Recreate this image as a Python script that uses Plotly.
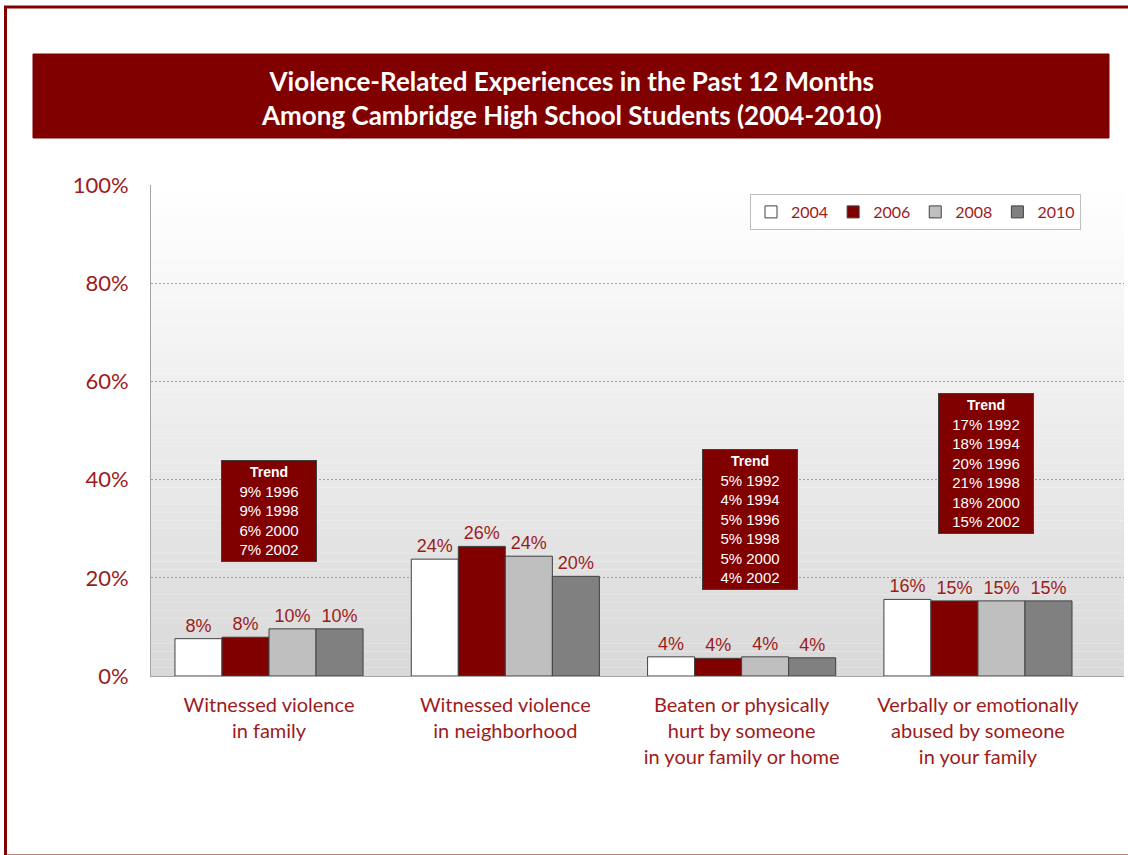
import plotly.graph_objects as go

categories = [
    "Witnessed violence<br>in family",
    "Witnessed violence<br>in neighborhood",
    "Beaten or physically<br>hurt by someone<br>in your family or home",
    "Verbally or emotionally<br>abused by someone<br>in your family",
]
years = ["2004", "2006", "2008", "2010"]
v2004 = [7.6, 23.8, 3.9, 15.6]
v2006 = [7.9, 26.4, 3.6, 15.3]
v2008 = [9.6, 24.4, 3.9, 15.3]
v2010 = [9.6, 20.3, 3.7, 15.3]
series = [v2004, v2006, v2008, v2010]
colors = ["#ffffff", "#800000", "#bfbfbf", "#808080"]

trend_cat = [0, 2, 3]
trend_y = [33.6, 31.8, 43.2]
trend_text = [
    ["9% 1996", "9% 1998", "6% 2000", "7% 2002"],
    ["5% 1992", "4% 1994", "5% 1996", "5% 1998", "5% 2000", "4% 2002"],
    ["17% 1992", "18% 1994", "20% 1996", "21% 1998", "18% 2000", "15% 2002"],
]
trend_shift = [0, 8, 8]

RED = "#9c1c1c"
W, H = 1128, 855
L, R, T, B = 151, 4, 185, 179
pw, ph = W - L - R, H - T - B

def px(x):
    return (x - L) / pw

def py(y):
    return (H - B - y) / ph

fig = go.Figure()
for yr, vals, c in zip(years, series, colors):
    fig.add_trace(go.Bar(
        x=categories, y=vals, name=yr,
        marker=dict(color=c, line=dict(color="#404040", width=1)),
        texttemplate="%{y:.0f}%", textposition="outside",
        textfont=dict(family="Liberation Sans, Arial", size=18, color=RED),
        cliponaxis=False, hoverinfo="skip",
    ))

shapes = []
n = 60
for i in range(n):
    t = i / (n - 1)
    g = int(round(255 - (255 - 217) * (1 - t)))
    shapes.append(dict(type="rect", xref="x domain", yref="y domain",
                       x0=0, x1=1, y0=i / n, y1=(i + 1) / n,
                       fillcolor=f"rgb({g},{g},{g})", line=dict(width=0),
                       layer="below"))
shapes.append(dict(type="rect", xref="paper", yref="paper",
                   x0=px(5.5), x1=px(1140), y0=py(856), y1=py(7),
                   line=dict(color="#800000", width=3), fillcolor="rgba(0,0,0,0)"))
shapes.append(dict(type="rect", xref="paper", yref="paper",
                   x0=px(33), x1=px(1109), y0=py(138), y1=py(54),
                   line=dict(color="#7a0000", width=1), fillcolor="#800000"))

annotations = []
for cat, yv, lines, sh in zip(trend_cat, trend_y, trend_text, trend_shift):
    annotations.append(dict(
        x=cat, y=yv, xref="x", yref="y", xshift=sh,
        text="<b><span style='font-size:14px'>Trend</span></b><br>" + "<br>".join(lines),
        showarrow=False, align="center", width=88, borderpad=3,
        bgcolor="#800000", bordercolor="#404040", borderwidth=1,
        font=dict(family="Liberation Sans, Arial", size=15, color="#ffffff"),
    ))
annotations.append(dict(
    x=px(571), y=py(98), xref="paper", yref="paper",
    text="<b>Violence-Related Experiences in the Past 12 Months<br>Among Cambridge High School Students (2004-2010)</b>",
    showarrow=False, xanchor="center", yanchor="middle", align="center",
    font=dict(family="Lato, Open Sans, sans-serif", size=26, color="#ffffff"),
))

fig.update_layout(
    width=W, height=H,
    margin=dict(l=L, r=R, t=T, b=B),
    paper_bgcolor="#ffffff", plot_bgcolor="rgba(0,0,0,0)",
    barmode="group", bargap=0.204, bargroupgap=0,
    legend=dict(
        orientation="h", x=px(1081), y=py(194), xanchor="right", yanchor="top",
        bgcolor="#ffffff", bordercolor="#bfbfbf", borderwidth=1,
        font=dict(family="Lato, sans-serif", size=16, color=RED),
        traceorder="normal", itemwidth=30,
        tracegroupgap=0,
    ),
    shapes=shapes,
    annotations=annotations,
    showlegend=True,
)
fig.update_yaxes(
    range=[0, 100], dtick=20, ticksuffix="%",
    showgrid=True, gridcolor="#a0a0a0", griddash="2px,2px", gridwidth=1,
    showline=True, linecolor="#a6a6a6", linewidth=1,
    zeroline=False,
    tickfont=dict(family="Lato, sans-serif", size=22, color=RED),
    ticklabelstandoff=17, fixedrange=True,
)
fig.update_xaxes(
    range=[-0.4994, 3.618],
    showline=True, linecolor="#a6a6a6", linewidth=1,
    tickfont=dict(family="Lato, sans-serif", size=20, color=RED),
    ticklabelstandoff=11, fixedrange=True,
)

fig.write_html("out.html", config={"displayModeBar": False},
               post_script="document.body.style.margin='0';")
